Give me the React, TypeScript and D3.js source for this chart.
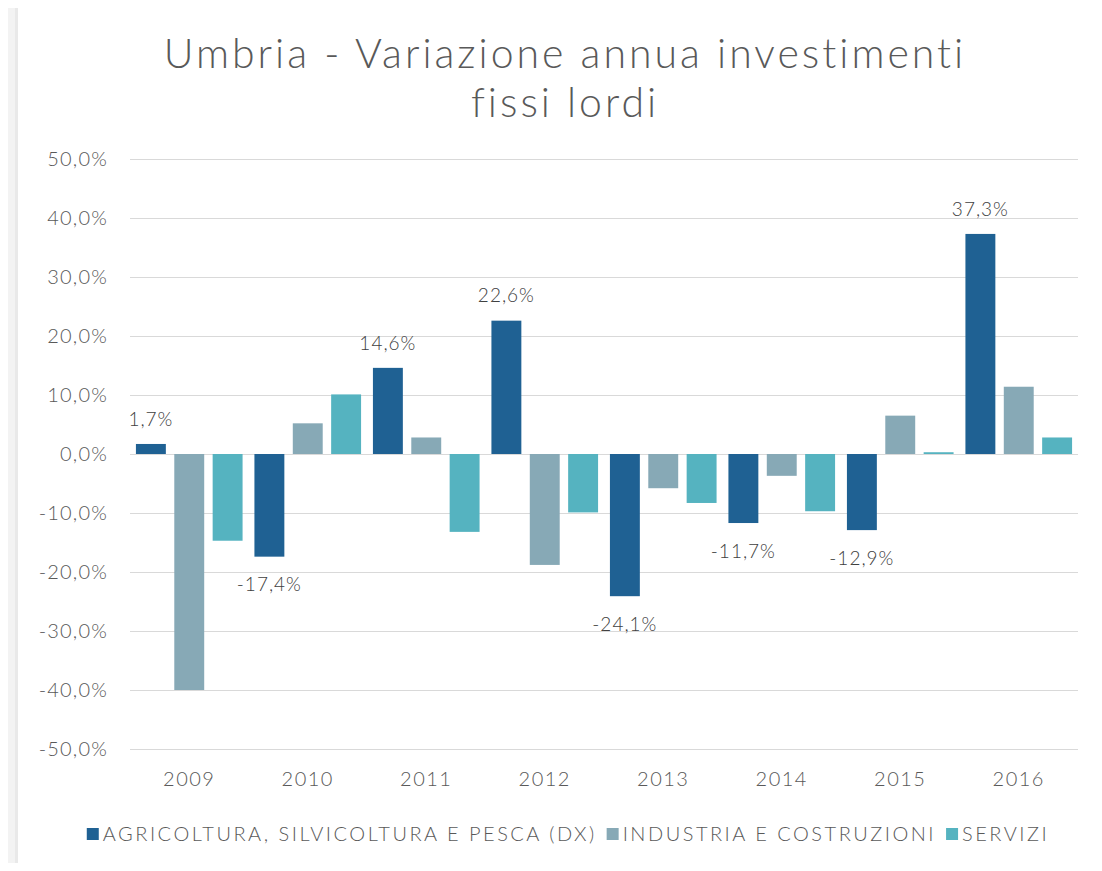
import React, { useEffect, useRef } from "react";
import * as d3 from "d3";

// dati (variazione % annua)
const years = ["2009", "2010", "2011", "2012", "2013", "2014", "2015", "2016"];
const seriesNames = [
  "AGRICOLTURA, SILVICOLTURA E PESCA (DX)",
  "INDUSTRIA E COSTRUZIONI",
  "SERVIZI",
];
const agricoltura = [1.7, -17.4, 14.6, 22.6, -24.1, -11.7, -12.9, 37.3];
const industria = [-40.0, 5.2, 2.8, -18.8, -5.8, -3.7, 6.5, 11.4];
const servizi = [-14.7, 10.1, -13.2, -9.9, -8.3, -9.7, 0.3, 2.8];
const yTicks = [50, 40, 30, 20, 10, 0, -10, -20, -30, -40, -50];
const colors = ["#1f6193", "#87a9b6", "#55b3c0"];

const fmt = (v: number) => v.toFixed(1).replace(".", ",") + "%";

const App = () => {
  const ref = useRef<SVGSVGElement>(null);

  useEffect(() => {
    const svg = d3.select(ref.current);
    svg.selectAll("*").remove();

    const width = 1102;
    const height = 871;
    const margin = { top: 159, right: 24, bottom: 122, left: 130 };
    const font = "Lato, 'Open Sans', sans-serif";
    const textColor = "#595959";

    // sfondo: bordo grigio a sinistra e in alto
    svg.append("rect").attr("width", width).attr("height", height).attr("fill", "#f3f3f3");
    svg.append("rect").attr("x", 15).attr("y", 2).attr("width", 3).attr("height", height).attr("fill", "#e9e9e9");
    svg.append("rect").attr("x", 18).attr("y", 2).attr("width", width - 18).attr("height", height).attr("fill", "#ffffff");

    const data = years.map((yr, i) => ({
      year: yr,
      values: [agricoltura[i], industria[i], servizi[i]],
    }));

    const x0 = d3.scaleBand()
      .domain(years)
      .range([margin.left, width - margin.right])
      .paddingInner(0.1)
      .paddingOuter(0.05);

    const x1 = d3.scaleBand()
      .domain(seriesNames)
      .range([0, x0.bandwidth()])
      .paddingInner(0.22);

    const y = d3.scaleLinear()
      .domain([-50, 50])
      .range([height - margin.bottom, margin.top]);

    // titolo
    const title = svg.append("text")
      .attr("text-anchor", "middle")
      .attr("font-family", font)
      .attr("font-weight", 300)
      .attr("font-size", 41)
      .attr("letter-spacing", 3)
      .attr("fill", textColor);
    title.append("tspan").attr("x", 565).attr("y", 68).text("Umbria - Variazione annua investimenti");
    title.append("tspan").attr("x", 565).attr("y", 117).text("fissi lordi");

    // griglia
    svg.append("g")
      .selectAll("line")
      .data(yTicks)
      .join("line")
      .attr("x1", x0.range()[0])
      .attr("x2", x0.range()[1])
      .attr("y1", d => y(d) + 0.5)
      .attr("y2", d => y(d) + 0.5)
      .attr("stroke", "#d9d9d9")
      .attr("stroke-width", 1);

    // etichette asse Y
    svg.append("g")
      .selectAll("text")
      .data(yTicks)
      .join("text")
      .attr("x", 108)
      .attr("y", d => y(d))
      .attr("dy", "0.35em")
      .attr("text-anchor", "end")
      .attr("font-family", font)
      .attr("font-weight", 300)
      .attr("font-size", 20)
      .attr("letter-spacing", 1.2)
      .attr("fill", textColor)
      .text(d => fmt(d));

    // etichette asse X
    svg.append("g")
      .selectAll("text")
      .data(years)
      .join("text")
      .attr("x", d => x0(d)! + x0.bandwidth() / 2)
      .attr("y", 779)
      .attr("dy", "0.35em")
      .attr("text-anchor", "middle")
      .attr("font-family", font)
      .attr("font-weight", 300)
      .attr("font-size", 20)
      .attr("letter-spacing", 1.5)
      .attr("fill", textColor)
      .text(d => d);

    // barre
    const groups = svg.append("g")
      .selectAll("g")
      .data(data)
      .join("g")
      .attr("transform", d => `translate(${x0(d.year)},0)`);

    groups.selectAll("rect")
      .data(d => d.values.map((v, i) => ({ key: seriesNames[i], v, i })))
      .join("rect")
      .attr("x", d => x1(d.key)!)
      .attr("width", x1.bandwidth())
      .attr("y", d => Math.min(y(d.v), y(0)))
      .attr("height", d => Math.abs(y(d.v) - y(0)))
      .attr("fill", d => colors[d.i]);

    // etichette dati solo per agricoltura
    svg.append("g")
      .selectAll("text")
      .data(data)
      .join("text")
      .attr("x", d => x0(d.year)! + x1(seriesNames[0])! + x1.bandwidth() / 2)
      .attr("y", d => d.values[0] >= 0 ? y(d.values[0]) - 25 : y(d.values[0]) + 28)
      .attr("dy", "0.35em")
      .attr("text-anchor", "middle")
      .attr("font-family", font)
      .attr("font-weight", 300)
      .attr("font-size", 19)
      .attr("letter-spacing", 1)
      .attr("fill", "#404040")
      .text(d => fmt(d.values[0]));

    // legenda
    const legend = svg.append("g");
    const items = legend.selectAll("g")
      .data(seriesNames)
      .join("g");
    items.append("rect")
      .attr("width", 12)
      .attr("height", 12)
      .attr("y", -6)
      .attr("fill", (d, i) => colors[i]);
    items.append("text")
      .attr("x", 16)
      .attr("dy", "0.35em")
      .attr("font-family", font)
      .attr("font-weight", 300)
      .attr("font-size", 20)
      .attr("letter-spacing", 2.5)
      .attr("fill", textColor)
      .text(d => d);

    let offset = 0;
    const widths: number[] = [];
    items.each(function () {
      const t = d3.select(this).select("text").node() as SVGTextElement;
      widths.push(16 + t.getComputedTextLength());
    });
    const gap = 10;
    const total = d3.sum(widths) + gap * (widths.length - 1);
    const start = 568 - total / 2;
    items.attr("transform", (d, i) => {
      const pos = start + offset;
      offset += widths[i] + gap;
      return `translate(${pos},834)`;
    });
  });

  return (
    <svg ref={ref} width={1102} height={871} style={{ display: "block", margin: "-8px" }} />
  );
};

export default App;
